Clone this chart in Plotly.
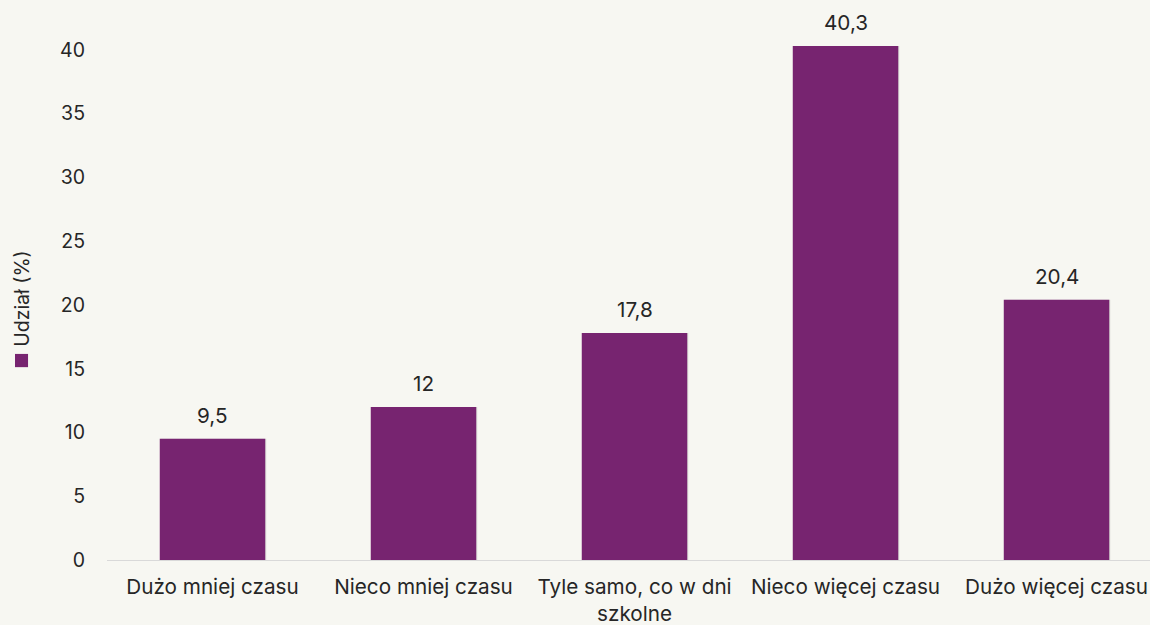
import plotly.graph_objects as go

categories = ["Dużo mniej czasu", "Nieco mniej czasu", "Tyle samo, co w dni<br>szkolne",
              "Nieco więcej czasu", "Dużo więcej czasu"]
values = [9.5, 12, 17.8, 40.3, 20.4]
series_name = "Udział (%)"
y_ticks = [0, 5, 10, 15, 20, 25, 30, 35, 40]

BAR = "#772470"
BG = "#f7f7f2"
TXT = "#262626"
FONT = "Inter, 'Open Sans', sans-serif"
FS = 20.7
FS_TICK = 19.5

def fmt(v):
    s = ("%g" % v)
    return s.replace(".", ",")

fig = go.Figure()

# faint drop shadow behind each bar
fig.add_trace(go.Bar(
    x=list(range(len(values))), y=values, width=0.5, offset=-0.245,
    marker=dict(color="rgba(0,0,0,0.10)", line=dict(width=0)),
    hoverinfo="skip", showlegend=False,
))
fig.add_trace(go.Bar(
    x=list(range(len(values))), y=values, width=0.5, offset=-0.25,
    marker=dict(color=BAR, line=dict(width=0)),
    name=series_name, showlegend=False,
))

for i, v in enumerate(values):
    fig.add_annotation(x=i, y=v, text=fmt(v), showarrow=False, yanchor="bottom",
                       yshift=9, font=dict(size=FS, color=TXT, family=FONT))

# rotated legend entry on the left
fig.add_annotation(xref="paper", yref="paper", x=-0.0815, y=0.474, text=series_name,
                   textangle=-90, showarrow=False, xanchor="center", yanchor="middle",
                   font=dict(size=FS_TICK, color=TXT, family=FONT))
fig.add_shape(type="rect", xref="paper", yref="paper",
              x0=-0.0882, x1=-0.0757, y0=0.350, y1=0.374,
              fillcolor=BAR, line=dict(width=0))

fig.update_layout(
    width=1150, height=625,
    margin=dict(l=107, r=0, t=9, b=65),
    paper_bgcolor=BG, plot_bgcolor=BG,
    font=dict(family=FONT, size=FS, color=TXT),
    barmode="overlay",
    showlegend=False,
)
fig.update_xaxes(
    tickmode="array", tickvals=list(range(len(categories))), ticktext=categories,
    range=[-0.5, 4.443], showgrid=False, zeroline=False,
    showline=False, ticks="", ticklabelstandoff=12,
    tickfont=dict(size=FS, color=TXT, family=FONT),
)
fig.update_yaxes(
    range=[0, 43.2], tickvals=y_ticks, showgrid=False, zeroline=True,
    zerolinecolor="#d9d9d9", zerolinewidth=1, showline=False,
    ticks="", ticklabelstandoff=21,
    tickfont=dict(size=FS_TICK, color=TXT, family=FONT),
)

fig.write_html("out.html")
